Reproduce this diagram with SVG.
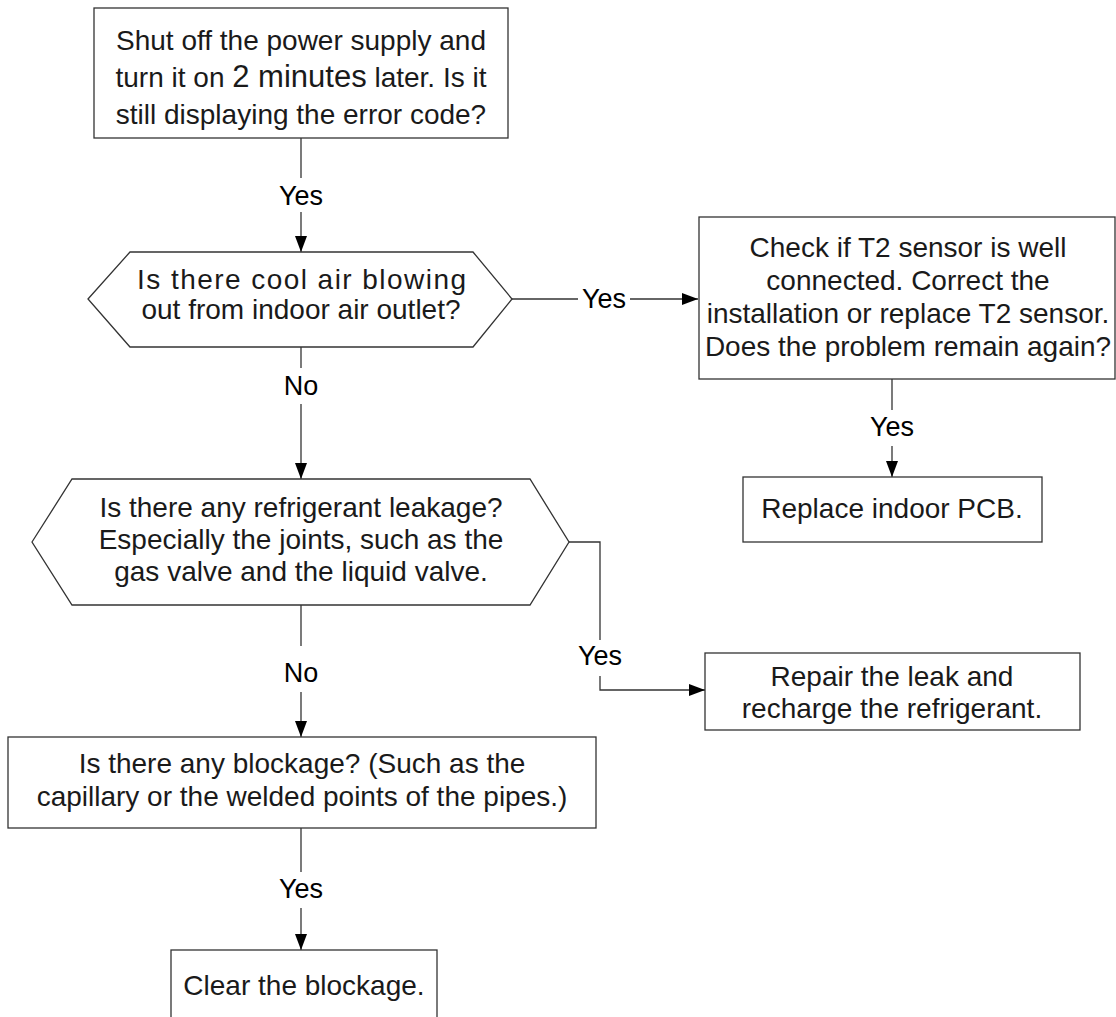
<svg xmlns="http://www.w3.org/2000/svg" width="1116" height="1017" viewBox="0 0 1116 1017">
<defs>
<style>
.box{fill:#fff;stroke:#333;stroke-width:1.3}
.ln{fill:none;stroke:#333;stroke-width:1.3}
.t{font-family:"Liberation Sans",Arial,sans-serif;font-size:28px;fill:#1a1a1a;text-anchor:middle}
.lbl{font-family:"Liberation Sans",Arial,sans-serif;font-size:27px;fill:#000;text-anchor:middle}
</style>
<marker id="ah" viewBox="0 0 16 12" refX="16" refY="6" markerWidth="16" markerHeight="12" markerUnits="userSpaceOnUse" orient="auto">
<path d="M0,0 L16,6 L0,12 Z" fill="#000"/>
</marker>
</defs>
<rect width="1116" height="1017" fill="#fff"/>
<g id="connectors">
<line class="ln" x1="301" y1="138" x2="301" y2="178"/>
<line class="ln" x1="301" y1="212" x2="301" y2="252" marker-end="url(#ah)"/>
<text class="lbl" x="301" y="205">Yes</text>
<line class="ln" x1="512" y1="299" x2="578" y2="299"/>
<line class="ln" x1="630" y1="299" x2="698" y2="299" marker-end="url(#ah)"/>
<text class="lbl" x="604" y="308">Yes</text>
<line class="ln" x1="892" y1="379" x2="892" y2="410"/>
<line class="ln" x1="892" y1="446" x2="892" y2="477" marker-end="url(#ah)"/>
<text class="lbl" x="892" y="436">Yes</text>
<line class="ln" x1="301" y1="347" x2="301" y2="368"/>
<line class="ln" x1="301" y1="404" x2="301" y2="479" marker-end="url(#ah)"/>
<text class="lbl" x="301" y="395">No</text>
<line class="ln" x1="301" y1="605" x2="301" y2="646"/>
<line class="ln" x1="301" y1="692" x2="301" y2="737" marker-end="url(#ah)"/>
<text class="lbl" x="301" y="682">No</text>
<polyline class="ln" points="569,542 600,542 600,640"/>
<polyline class="ln" points="600,676 600,690 705,690" marker-end="url(#ah)"/>
<text class="lbl" x="600" y="665">Yes</text>
<line class="ln" x1="301" y1="828" x2="301" y2="872"/>
<line class="ln" x1="301" y1="908" x2="301" y2="950" marker-end="url(#ah)"/>
<text class="lbl" x="301" y="898">Yes</text>
</g>
<g id="n1">
<rect class="box" x="94" y="8" width="414" height="130"/>
<text class="t" x="301" y="50">Shut off the power supply and</text>
<text class="t" x="301" y="87">turn it on <tspan font-size="31">2 minutes</tspan> later. Is it</text>
<text class="t" x="301" y="124">still displaying the error code?</text>
</g>
<g id="n2">
<polygon class="box" points="88,299 130,252 473,252 512,299 473,347 130,347"/>
<text class="t" x="301.5" y="289" textLength="329" lengthAdjust="spacing">Is there cool air blowing</text>
<text class="t" x="301" y="319">out from indoor air outlet?</text>
</g>
<g id="n3">
<rect class="box" x="699" y="217" width="416" height="162"/>
<text class="t" x="908" y="257">Check if T2 sensor is well</text>
<text class="t" x="908" y="290">connected. Correct the</text>
<text class="t" x="908" y="323">installation or replace T2 sensor.</text>
<text class="t" x="908" y="356">Does the problem remain again?</text>
</g>
<g id="n4">
<rect class="box" x="743" y="477" width="299" height="65"/>
<text class="t" x="892" y="518">Replace indoor PCB.</text>
</g>
<g id="n5">
<polygon class="box" points="32,542 72,479 530,479 569,542 530,605 72,605"/>
<text class="t" x="301" y="517">Is there any refrigerant leakage?</text>
<text class="t" x="301" y="549">Especially the joints, such as the</text>
<text class="t" x="301" y="581">gas valve and the liquid valve.</text>
</g>
<g id="n6">
<rect class="box" x="705" y="653" width="375" height="77"/>
<text class="t" x="892" y="686">Repair the leak and</text>
<text class="t" x="892" y="718">recharge the refrigerant.</text>
</g>
<g id="n7">
<rect class="box" x="8" y="737" width="588" height="91"/>
<text class="t" x="302" y="773">Is there any blockage? (Such as the</text>
<text class="t" x="302" y="806">capillary or the welded points of the pipes.)</text>
</g>
<g id="n8">
<rect class="box" x="171" y="950" width="266" height="80"/>
<text class="t" x="304" y="995">Clear the blockage.</text>
</g>
</svg>
